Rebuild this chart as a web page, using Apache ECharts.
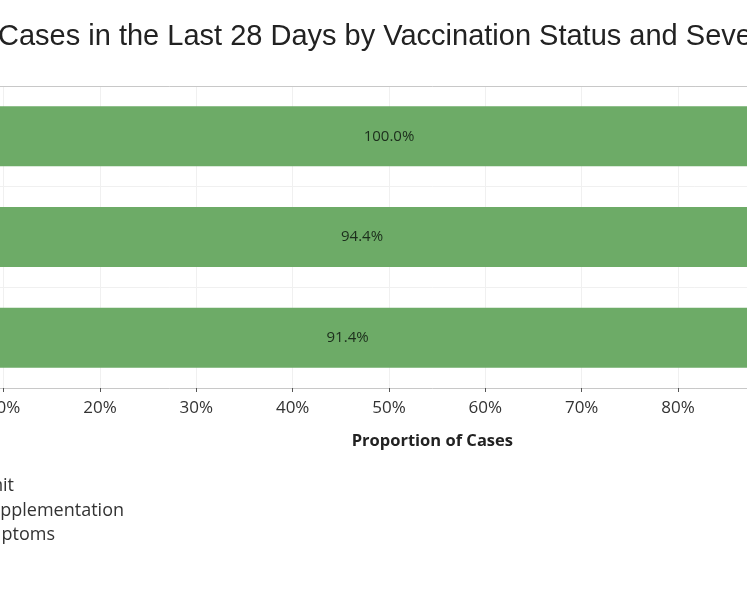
<!DOCTYPE html>
<html>
<head>
<meta charset="utf-8">
<script src="https://cdn.jsdelivr.net/npm/echarts@6/dist/echarts.min.js"></script>
<style>
  html, body { margin: 0; padding: 0; overflow: hidden; background: #fff; }
  #main { position: absolute; left: -200px; top: 0; width: 1200px; height: 598px; }
</style>
</head>
<body>
<div id="main"></div>
<script>
// rows, top to bottom
const categories = ['Hospital Admit', 'Oxygen Supplementation', 'With Symptoms'];
const proportions = [100.0, 94.4, 91.4];
const legendItems = ['Hospital Admit', 'Oxygen Supplementation', 'With Symptoms'];
const titleText = 'Cases in the Last 28 Days by Vaccination Status and Severity';

const chart = echarts.init(document.getElementById('main'));
const font = '"Open Sans", "Noto Sans", sans-serif';
const shift = 200; // container starts 200px left of the page

chart.setOption({
  animation: false,
  grid: { left: 107.3, right: 42.6, top: 86, bottom: 210 },
  xAxis: [{
    type: 'value',
    min: 0,
    max: 109,
    interval: 10,
    axisLine: { show: true, lineStyle: { color: '#c8c8c8' } },
    axisTick: { show: true, length: 4, lineStyle: { color: '#555' } },
    axisLabel: {
      formatter: v => (v % 10 === 0 ? v + '%' : ''),
      color: '#333',
      fontSize: 17,
      fontFamily: font,
      margin: 12
    },
    splitLine: { show: true, lineStyle: { color: '#f0f0f0' } },
    name: 'Proportion of Cases',
    nameLocation: 'middle',
    nameGap: 45,
    nameTextStyle: { fontWeight: 'bold', fontSize: 16.5, color: '#222', fontFamily: font }
  }, {
    type: 'value',
    position: 'top',
    min: 0,
    max: 109,
    axisLine: { show: true, lineStyle: { color: '#c8c8c8' } },
    axisTick: { show: false },
    axisLabel: { show: false },
    splitLine: { show: false }
  }],
  yAxis: {
    type: 'category',
    inverse: true,
    data: categories,
    axisLine: { show: false },
    axisTick: { show: false },
    axisLabel: { show: false },
    splitLine: { show: true, lineStyle: { color: '#f0f0f0' } }
  },
  series: [{
    type: 'bar',
    data: proportions,
    barWidth: 60,
    itemStyle: { color: '#6dab67' },
    label: {
      show: true,
      position: 'inside',
      formatter: p => p.value.toFixed(1) + '%',
      color: '#1c2e1c',
      fontSize: 15,
      fontFamily: font
    }
  }],
  graphic: [
    {
      type: 'text',
      left: shift - 2,
      top: 22,
      style: { text: titleText, font: '29px "Liberation Sans", Arial, sans-serif', fill: '#222' }
    },
    ...legendItems.map((t, i) => ({
      type: 'text',
      x: shift + [14, 124, 55][i],
      y: 486 + i * 24.5,
      style: {
        text: t,
        textAlign: 'right',
        textVerticalAlign: 'middle',
        font: '18px "Open Sans", "Noto Sans", sans-serif',
        fill: '#333'
      }
    }))
  ]
});
</script>
</body>
</html>
